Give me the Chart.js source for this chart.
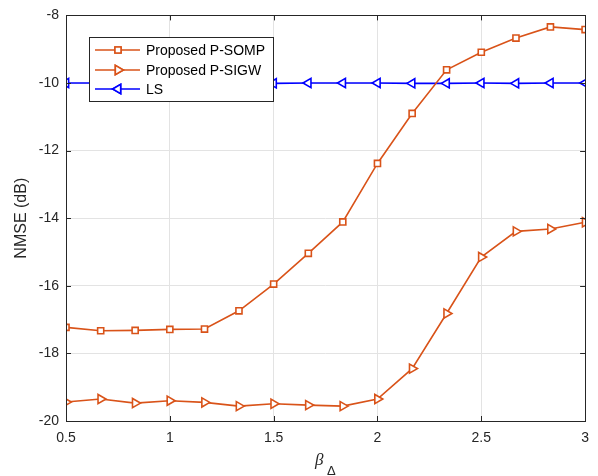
<!DOCTYPE html>
<html><head><meta charset="utf-8">
<script src="https://cdn.jsdelivr.net/npm/chart.js@4.4.1/dist/chart.umd.min.js"></script>
<style>html,body{margin:0;padding:0;background:#fff}</style>
</head><body>
<canvas id="c" width="598" height="476"></canvas>
<script>
const betaValues = [0.5, 0.667, 0.833, 1.0, 1.167, 1.333, 1.5, 1.667, 1.833, 2.0, 2.167, 2.333, 2.5, 2.667, 2.833, 3.0];
const somp = [-17.23, -17.33, -17.32, -17.29, -17.28, -16.74, -15.95, -15.04, -14.11, -12.38, -10.90, -9.61, -9.09, -8.67, -8.34, -8.42];
const sigw = [-19.44, -19.35, -19.47, -19.40, -19.45, -19.56, -19.49, -19.53, -19.56, -19.35, -18.45, -16.82, -15.15, -14.39, -14.32, -14.12];
const ls = [-10.0, -10.0, -10.0, -10.0, -10.0, -10.01, -10.01, -10.0, -10.0, -10.0, -10.01, -10.01, -10.0, -10.01, -10.0, -10.0];
const seriesNames = ['Proposed P-SOMP', 'Proposed P-SIGW', 'LS'];
const xTicks = [0.5, 1, 1.5, 2, 2.5, 3];
const yTicks = [-20, -18, -16, -14, -12, -10, -8];

const ORANGE = '#D95319', BLUE = '#0000FF', AX = '#262626';
const FONT = 'Liberation Sans, Arial, sans-serif';

function pts(arr){ return arr.map((v,i)=>({x:betaValues[i], y:v})); }

const boxPlugin = {
  id:'boxPlugin',
  afterDraw(chart){
    const {ctx, chartArea:a, scales} = chart;
    ctx.save();
    ctx.strokeStyle = AX; ctx.lineWidth = 1;
    ctx.beginPath();
    const L=5;
    xTicks.forEach(t=>{
      const px = Math.round(scales.x.getPixelForValue(t))+0.5;
      ctx.moveTo(px, a.bottom); ctx.lineTo(px, a.bottom-L);
      ctx.moveTo(px, a.top); ctx.lineTo(px, a.top+L);
    });
    yTicks.forEach(t=>{
      const py = Math.round(scales.y.getPixelForValue(t))+0.5;
      ctx.moveTo(a.left, py); ctx.lineTo(a.left+L, py);
      ctx.moveTo(a.right, py); ctx.lineTo(a.right-L, py);
    });
    ctx.stroke();
    ctx.strokeRect(Math.round(a.left)+0.5, Math.round(a.top)+0.5, Math.round(a.right-a.left), Math.round(a.bottom-a.top));
    // axis titles
    ctx.fillStyle = AX;
    ctx.font = '16px ' + FONT;
    ctx.textAlign='center'; ctx.textBaseline='middle';
    ctx.save();
    ctx.translate(22, (a.top+a.bottom)/2);
    ctx.rotate(-Math.PI/2);
    ctx.fillText('NMSE (dB)', 0, 0);
    ctx.restore();
    ctx.textAlign='left'; ctx.textBaseline='alphabetic';
    ctx.font = 'italic 17px "Liberation Serif", "Times New Roman", serif';
    ctx.fillText('β', 315, 465);
    ctx.font = '13px ' + FONT;
    ctx.fillText('Δ', 327, 475);
    // legend
    const lx=89, ly=37, lw=184, lh=64;
    ctx.fillStyle='#fff';
    ctx.fillRect(lx, ly, lw, lh);
    ctx.strokeStyle = AX; ctx.lineWidth=1;
    ctx.strokeRect(lx+0.5, ly+0.5, lw, lh);
    const rows=[50,70,89];
    chart.data.datasets.forEach((ds,i)=>{
      const y=rows[i];
      ctx.strokeStyle=ds.borderColor; ctx.lineWidth=ds.borderWidth;
      ctx.beginPath(); ctx.moveTo(95,y); ctx.lineTo(140,y); ctx.stroke();
      Chart.helpers.drawPoint(ctx, {pointStyle: ds.pointStyle, rotation: ds.pointRotation, radius: ds.pointRadius, borderWidth: ds.pointBorderWidth}, 118, y);
      ctx.fillStyle='#fff';
      ctx.fill();
      ctx.strokeStyle=ds.borderColor; ctx.lineWidth=ds.pointBorderWidth;
      ctx.stroke();
      ctx.fillStyle='#000';
      ctx.font='14px '+FONT; ctx.textAlign='left'; ctx.textBaseline='middle';
      ctx.fillText(ds.label, 146, y+1);
    });
    ctx.restore();
  }
};

new Chart(document.getElementById('c'), {
  type:'line',
  data:{datasets:[
    {label:seriesNames[0], data:pts(somp), borderColor:ORANGE, backgroundColor:'#fff', borderWidth:1.6,
     pointStyle:'rect', pointRadius:4.3, pointBorderWidth:1.6, pointBackgroundColor:'#fff', pointBorderColor:ORANGE, pointRotation:0},
    {label:seriesNames[1], data:pts(sigw), borderColor:ORANGE, backgroundColor:'#fff', borderWidth:1.6,
     pointStyle:'triangle', pointRotation:90, pointRadius:5.3, pointBorderWidth:1.6, pointBackgroundColor:'#fff', pointBorderColor:ORANGE},
    {label:seriesNames[2], data:pts(ls), borderColor:BLUE, backgroundColor:'#fff', borderWidth:1.6,
     pointStyle:'triangle', pointRotation:-90, pointRadius:5.3, pointBorderWidth:1.6, pointBackgroundColor:'#fff', pointBorderColor:BLUE}
  ]},
  options:{
    responsive:false, animation:false, devicePixelRatio:1,
    layout:{padding:{top:12, right:11, left:0, bottom:0}},
    plugins:{legend:{display:false}, tooltip:{enabled:false}},
    elements:{line:{tension:0}},
    scales:{
      x:{type:'linear', min:0.5, max:3,
        afterFit(s){ s.height=55; },
        afterBuildTicks(s){ s.ticks = xTicks.map(v=>({value:v})); },
        grid:{color:'#e3e3e3', drawTicks:false, lineWidth:1},
        border:{display:false},
        ticks:{padding:9, color:AX, font:{family:FONT, size:14}, callback:v=>String(v), maxRotation:0, autoSkip:false}},
      y:{type:'linear', min:-20, max:-8,
        afterFit(s){ s.width=66; },
        afterBuildTicks(s){ s.ticks = yTicks.map(v=>({value:v})); },
        grid:{color:'#e3e3e3', drawTicks:false, lineWidth:1},
        border:{display:false},
        ticks:{padding:7, color:AX, font:{family:FONT, size:14}, callback:v=>String(v), autoSkip:false}}
    }
  },
  plugins:[boxPlugin]
});
</script>
</body></html>
